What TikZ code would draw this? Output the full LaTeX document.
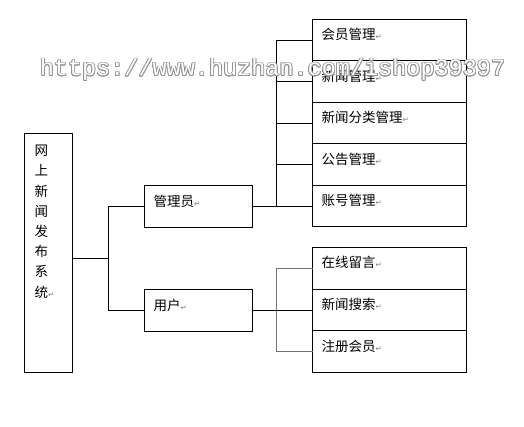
\documentclass[tikz,border=0pt]{standalone}
\usepackage{fontspec}
\usepackage{xcolor}
\usepackage{contour}
\usetikzlibrary{positioning,calc}
\newfontfamily\cjk{Noto Sans CJK SC}
\newfontfamily\retfont{DejaVu Sans}
\newfontfamily\wmfont{Liberation Mono}
\newcommand{\pmark}{{\retfont\fontsize{7.5}{7.5}\selectfont\color{gray}↵}}
\contourlength{0.8pt}

\begin{document}
\begin{tikzpicture}[x=1pt, y=-1pt, line width=1pt,
    font=\cjk\fontsize{13.5}{20.24}\selectfont,
    plain/.style={draw, anchor=north west, outer sep=0pt, inner xsep=9pt, inner ysep=0pt, align=left},
    mbox/.style={plain, text width=136pt, text height=20.3pt, text depth=21.2pt},
    lbox/.style={plain, text width=136pt, text height=20.3pt, text depth=21.4pt},
    rbox/.style={plain, text width=90pt, text height=21pt, text depth=21pt},
    conn/.style={draw=black},
    soft/.style={draw=black!55, line width=1.2pt}]

  \useasboundingbox (0,0) rectangle (524,427);

  \node[draw, anchor=north west, outer sep=0pt, minimum width=48pt, minimum height=239pt] (sys) at (24.5,133.5) {};
  \node[anchor=north west, inner sep=0pt, align=left] (systxt) at (34,144.5)
    {网\\上\\新\\闻\\发\\布\\系\\统\pmark};

  \node[rbox] (admin) at (144.5,185.5) {管理员\pmark};
  \node[rbox] (user)  at (144.5,289.5) {用户\pmark};

  \foreach \name [count=\i] in {会员管理,新闻管理,新闻分类管理,公告管理,账号管理} {
    \node[mbox] (a\i) at (312.5,{19.5+41.5*(\i-1)}) {\name\pmark};
  }
  \foreach \name [count=\i] in {在线留言,新闻搜索,注册会员} {
    \node[lbox] (u\i) at (312.5,{247.5+41.7*(\i-1)}) {\name\pmark};
  }

  \coordinate (abus) at (276.5,0);
  \coordinate (ubus) at (276.5,0);

  \draw[conn] ([yshift=-5.5pt]sys.east) -- ++(36,0) coordinate (fork);
  \draw[conn] (admin.west) -| (fork) |- (user.west);

  \draw[conn] (admin.east) -- (admin.east -| a5.west);
  \draw[conn] (a1.west) -- (a1.west -| abus) -- (admin.east -| abus);
  \foreach \i in {2,3,4} {
    \draw[conn] (a\i.west) -- (a\i.west -| abus);
  }

  \draw[soft] (u1.west) -- (u1.west -| ubus) -- (u3.west -| ubus) -- (u3.west);
  \draw[conn] (user.east) -- (user.east -| u2.west);

  \node[anchor=base, inner sep=0pt, text=white, font=\wmfont\fontsize{23.5}{24}\selectfont] (mark) at (272.5,76)
    {\contour{gray!85}{https://www.huzhan.com/ishop39397}};
\end{tikzpicture}
\end{document}
